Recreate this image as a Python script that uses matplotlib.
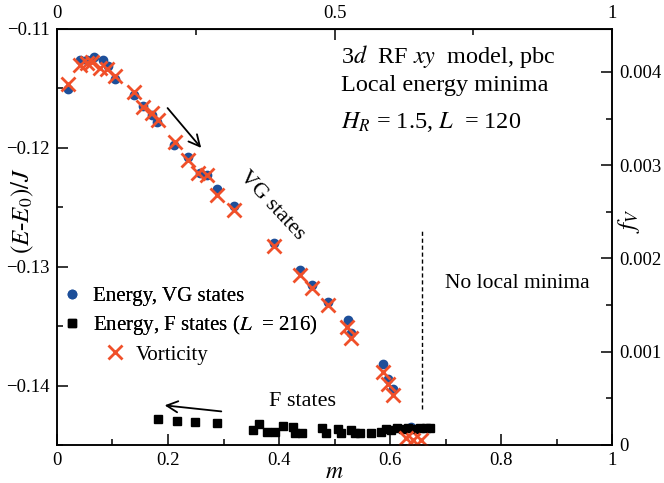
import matplotlib
matplotlib.use("Agg")
import matplotlib.pyplot as plt
from matplotlib.ticker import FuncFormatter, MultipleLocator

plt.rcParams["font.family"] = ["Liberation Serif", "DejaVu Serif"]
plt.rcParams["mathtext.fontset"] = "stix"

# energy of VG states (left axis)
m_vg = [0.020, 0.041, 0.054, 0.067, 0.083, 0.092, 0.105, 0.139, 0.155, 0.171,
        0.180, 0.211, 0.236, 0.258, 0.270, 0.288, 0.319, 0.391, 0.438, 0.459,
        0.488, 0.524, 0.530, 0.587, 0.596, 0.605, 0.638]
e_vg = [-0.11505, -0.11261, -0.11261, -0.11236, -0.11261, -0.11311, -0.11421,
        -0.11555, -0.11648, -0.11724, -0.11782, -0.11976, -0.12077, -0.12211,
        -0.12228, -0.12346, -0.12489, -0.12800, -0.13028, -0.13154, -0.13297,
        -0.13448, -0.13558, -0.13818, -0.13945, -0.14029, -0.14349]

# energy of F states, L = 216 (left axis)
m_f = [0.182, 0.216, 0.249, 0.288, 0.353, 0.364, 0.378, 0.393, 0.407, 0.425,
       0.429, 0.441, 0.477, 0.485, 0.506, 0.512, 0.530, 0.537, 0.546, 0.566,
       0.584, 0.593, 0.602, 0.613, 0.623, 0.632, 0.643, 0.654, 0.665, 0.672]
e_f = [-0.14281, -0.14298, -0.14306, -0.14315, -0.14374, -0.14323, -0.14391,
       -0.14391, -0.14340, -0.14349, -0.14399, -0.14399, -0.14357, -0.14399,
       -0.14365, -0.14399, -0.14374, -0.14399, -0.14399, -0.14399, -0.14391,
       -0.14365, -0.14374, -0.14357, -0.14365, -0.14357, -0.14365, -0.14357,
       -0.14357, -0.14357]

# vorticity (right axis)
m_v = [0.020, 0.041, 0.054, 0.063, 0.077, 0.090, 0.105, 0.139, 0.155, 0.171,
       0.182, 0.213, 0.236, 0.254, 0.270, 0.288, 0.319, 0.391, 0.438, 0.459,
       0.488, 0.523, 0.530, 0.587, 0.596, 0.605, 0.629, 0.641, 0.656]
f_v = [0.003868, 0.004072, 0.004093, 0.004104, 0.004040, 0.004029, 0.003954,
       0.003782, 0.003621, 0.003557, 0.003482, 0.003246, 0.003053, 0.002913,
       0.002892, 0.002677, 0.002516, 0.002130, 0.001818, 0.001679, 0.001497,
       0.001261, 0.001143, 0.000778, 0.000649, 0.000531, 0.00007, 0.00005,
       0.00005]

BLUE = "#1d4f9a"
ORANGE = "#f0502a"


def fmt(v, pos):
    s = "{:g}".format(round(v, 6))
    return s.replace("-", "\u2212")


fig = plt.figure(figsize=(6.64, 4.83), dpi=100)
ax = fig.add_axes([0.0858, 0.0787, 0.836, 0.8613])
ax2 = ax.twinx()

h_vg, = ax.plot(m_vg, e_vg, ls="none", marker="o", ms=6, color=BLUE,
                label="Energy, VG states")
h_f, = ax.plot(m_f, e_f, ls="none", marker="s", ms=5.5, color="black",
               label="Energy, F states ($L$  = 216)")
h_v, = ax2.plot(m_v, f_v, ls="none", marker="x", ms=10, mew=2, color=ORANGE,
                label="Vorticity")

ax.set_xlim(0, 1)
ax.set_ylim(-0.145, -0.11)
ax2.set_ylim(0, 0.00446)

ax.xaxis.set_major_locator(MultipleLocator(0.2))
ax.xaxis.set_minor_locator(MultipleLocator(0.1))
ax.yaxis.set_major_locator(MultipleLocator(0.01))
ax.yaxis.set_minor_locator(MultipleLocator(0.005))
ax2.yaxis.set_major_locator(MultipleLocator(0.001))
ax2.yaxis.set_minor_locator(MultipleLocator(0.0005))
for a in (ax.xaxis, ax.yaxis, ax2.yaxis):
    a.set_major_formatter(FuncFormatter(fmt))

top = ax.secondary_xaxis("top")
top.xaxis.set_major_locator(MultipleLocator(0.5))
top.xaxis.set_minor_locator(MultipleLocator(0.25))
top.xaxis.set_major_formatter(FuncFormatter(fmt))

for a in (ax, ax2, top):
    a.tick_params(which="major", direction="in", length=8, width=1.1,
                  labelsize=13.5, pad=5)
    a.tick_params(which="minor", direction="in", length=4.5, width=1.1)
ax.tick_params(axis="y", which="both", right=False)
ax.tick_params(axis="x", which="both", top=False)
for sp in ax.spines.values():
    sp.set_linewidth(1.1)
for sp in ax2.spines.values():
    sp.set_linewidth(1.1)

ax.set_xlabel("$m$", fontsize=17, va="center")
ax.xaxis.set_label_coords(0.499, -0.066)
ax.set_ylabel("$(E$-$E_0)/J$", fontsize=18, va="center")
ax.yaxis.set_label_coords(-0.062, 0.5625)
ax2.set_ylabel("$f_V$", fontsize=18, rotation=90, va="center")
ax2.yaxis.set_label_coords(1.03, 0.54)

# dashed boundary of the VG region
ax.vlines(0.657, -0.1420, -0.1268, colors="black", linestyles=(0, (3, 2)),
          lw=1.0)

ax.text(0.512, 0.918, "3$d$  RF $xy$  model, pbc", transform=ax.transAxes,
        fontsize=17.5, va="baseline")
ax.text(0.512, 0.851, "Local energy minima", transform=ax.transAxes,
        fontsize=17.5, va="baseline")
ax.text(0.512, 0.762, "$H_R$ = 1.5, $L$  = 120", transform=ax.transAxes,
        fontsize=17.5, va="baseline")
ax.text(0.387, 0.575, "VG states", transform=ax.transAxes, fontsize=16,
        rotation=-47, ha="center", va="center", rotation_mode="anchor")
ax.text(0.442, 0.105, "F states", transform=ax.transAxes, fontsize=16,
        ha="center", va="center")
ax.text(0.829, 0.387, "No local minima", transform=ax.transAxes, fontsize=15.5,
        ha="center", va="center")

ax.annotate("", xy=(0.263, 0.709), xytext=(0.196, 0.815),
            xycoords="axes fraction",
            arrowprops=dict(arrowstyle="->", lw=1.3, color="black",
                            mutation_scale=20))
ax.annotate("", xy=(0.189, 0.096), xytext=(0.301, 0.080),
            xycoords="axes fraction",
            arrowprops=dict(arrowstyle="->", lw=1.3, color="black",
                            mutation_scale=20))

leg1 = ax.legend(handles=[h_vg, h_f], loc="upper left",
                 bbox_to_anchor=(0.008, 0.38), frameon=False, fontsize=15,
                 handlelength=1.0, handletextpad=0.5, labelspacing=0.32,
                 borderaxespad=0.0, borderpad=0.0)
ax.add_artist(leg1)
ax2.legend(handles=[h_v], loc="upper left", bbox_to_anchor=(0.085, 0.24),
           frameon=False, fontsize=15, handlelength=1.0, handletextpad=0.5,
           borderaxespad=0.0, borderpad=0.0)

fig.savefig("out.png", dpi=100)
